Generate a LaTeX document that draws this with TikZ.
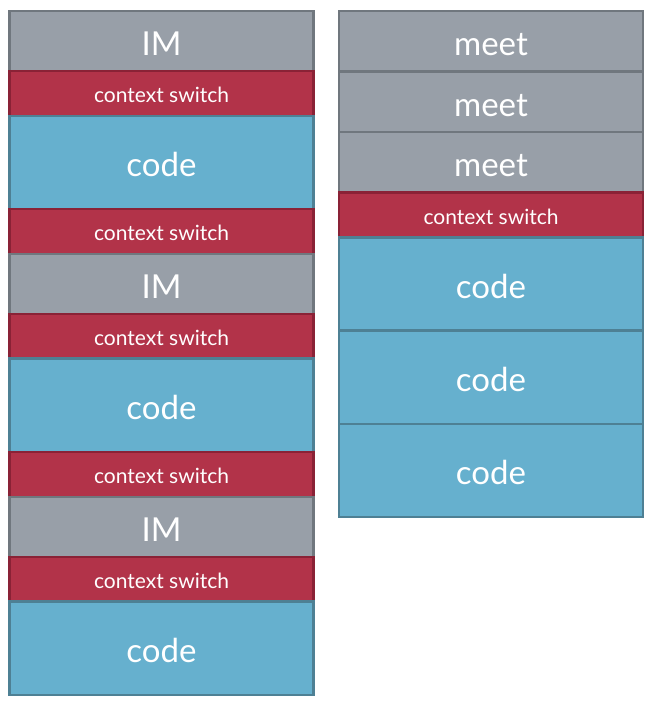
\documentclass[tikz,border=0pt]{standalone}
\usepackage{fontspec}
\setmainfont{Lato}
\usepackage{xcolor}
\usetikzlibrary{positioning}

\definecolor{imgray}{RGB}{152,159,168}
\definecolor{imgraydark}{RGB}{112,119,126}
\definecolor{switchred}{RGB}{178,51,73}
\definecolor{switchreddark}{RGB}{138,34,54}
\definecolor{codeblue}{RGB}{102,176,206}
\definecolor{codebluedark}{RGB}{78,128,148}

\begin{document}
\begin{tikzpicture}[node distance=0pt]
    % Define styles
    \tikzstyle{slot} = [rectangle, minimum width=304pt, inner sep=0pt, outer sep=0pt, line width=2.5pt, text=white, text centered]
    \tikzstyle{chat} = [slot, minimum height=60pt, draw=imgraydark, fill=imgray, text height=28.8pt, text depth=0pt, font=\fontsize{33}{33}\selectfont]
    \tikzstyle{meeting} = [chat, minimum height=60.5pt]
    \tikzstyle{switch} = [slot, minimum height=44.8pt, draw=switchreddark, fill=switchred, text height=18.8pt, text depth=0pt, font=\fontsize{21}{21}\selectfont]
    \tikzstyle{work} = [slot, minimum height=93.3pt, draw=codebluedark, fill=codeblue, text height=28.8pt, text depth=0pt, font=\fontsize{33}{33}\selectfont]

    \useasboundingbox (0,0) rectangle (653pt,-710pt);

    % Left side - interrupted day
    \node [chat, anchor=north] (im1) at (161.5pt,-11pt) {IM};
    \node [switch, below=of im1] (cs1) {context switch};
    \node [work, below=of cs1] (code1) {code};
    \node [switch, below=of code1] (cs2) {context switch};
    \node [chat, below=of cs2] (im2) {IM};
    \node [switch, below=of im2] (cs3) {context switch};
    \node [work, below=of cs3] (code2) {code};
    \node [switch, below=of code2] (cs4) {context switch};
    \node [chat, below=of cs4] (im3) {IM};
    \node [switch, below=of im3] (cs5) {context switch};
    \node [work, below=of cs5] (code3) {code};

    % Right side - batched day
    \node [meeting, anchor=north] (meet1) at (491pt,-11pt) {meet};
    \node [meeting, below=of meet1] (meet2) {meet};
    \node [meeting, below=of meet2] (meet3) {meet};
    \node [switch, below=of meet3] (cs6) {context switch};
    \node [work, below=of cs6] (code4) {code};
    \node [work, below=of code4] (code5) {code};
    \node [work, below=of code5] (code6) {code};

\end{tikzpicture}
\end{document}
